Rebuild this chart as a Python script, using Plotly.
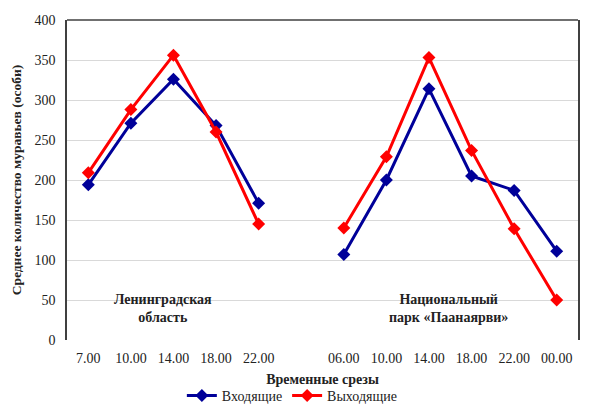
import plotly.graph_objects as go

tick_labels = ["7.00", "10.00", "14.00", "18.00", "22.00", "",
               "06.00", "10.00", "14.00", "18.00", "22.00", "00.00"]
incoming = [194, 271, 326, 268, 171, None, 107, 200, 314, 205, 187, 111]
outgoing = [209, 288, 356, 260, 145, None, 140, 229, 353, 237, 139, 50]
series_names = ["Входящие", "Выходящие"]
y_ticks = [0, 50, 100, 150, 200, 250, 300, 350, 400]

x = list(range(len(tick_labels)))
font = "Liberation Serif"

fig = go.Figure()
fig.add_trace(go.Scatter(x=x, y=incoming, name=series_names[0], mode="lines+markers",
                         line=dict(color="#000099", width=3),
                         marker=dict(symbol="diamond", size=10, color="#000099"),
                         connectgaps=False))
fig.add_trace(go.Scatter(x=x, y=outgoing, name=series_names[1], mode="lines+markers",
                         line=dict(color="#FF0000", width=3),
                         marker=dict(symbol="diamond", size=10, color="#FF0000"),
                         connectgaps=False))

fig.update_layout(
    width=600, height=411,
    margin=dict(l=67, r=22, t=20, b=71, autoexpand=False),
    paper_bgcolor="white", plot_bgcolor="white",
    font=dict(family=font, size=14, color="#222222"),
    showlegend=True,
    legend=dict(orientation="h", x=0.441, xanchor="center", y=-0.175, yanchor="middle",
                font=dict(size=14, family=font), itemwidth=30, tracegroupgap=0),
    xaxis=dict(range=[-0.5, len(tick_labels) - 0.5], tickvals=x, ticktext=tick_labels,
               showgrid=False, zeroline=False, showline=False, ticks="",
               automargin=False, ticklabelstandoff=8,
               tickfont=dict(size=14, family=font),
               title=dict(text="<b>Временные срезы</b>", font=dict(size=14, family=font),
                          standoff=9)),
    yaxis=dict(range=[0, 400], tickvals=y_ticks, showgrid=True, gridcolor="#D9D9D9",
               gridwidth=1, zeroline=False, showline=True, linecolor="#404040",
               linewidth=1.5, mirror=True, ticks="", tickfont=dict(size=14, family=font),
               automargin=False, ticklabelstandoff=7,
               title=dict(text="<b>Среднее количество муравьев (особи)</b>",
                          font=dict(size=13.5, family=font), standoff=10)),
    shapes=[dict(type="line", xref="paper", yref="paper", x0=0, x1=1, y0=1, y1=1,
                 line=dict(color="#404040", width=1.5))],
    annotations=[
        dict(text="<b>Ленинградская<br>область</b>", xref="paper", yref="paper",
             x=0.188, y=0.097, xanchor="center", yanchor="middle", showarrow=False,
             font=dict(size=14, color="#222222", family=font)),
        dict(text="<b>Национальный<br>парк «Паанаярви»</b>", xref="paper", yref="paper",
             x=0.746, y=0.097, xanchor="center", yanchor="middle", showarrow=False,
             font=dict(size=14, color="#222222", family=font)),
    ],
)

fig.write_html("out.html", config={"displayModeBar": False},
               post_script="document.body.style.margin='0';")
